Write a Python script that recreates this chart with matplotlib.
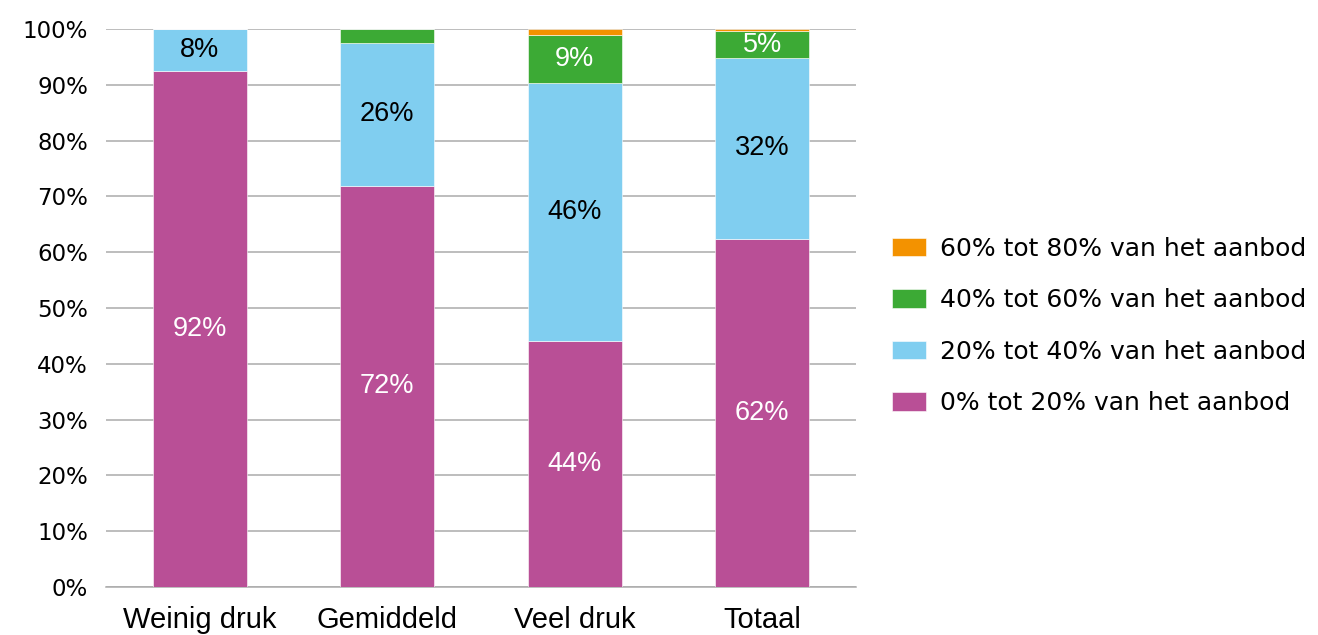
import matplotlib
matplotlib.use("Agg")
import matplotlib.pyplot as plt
import numpy as np

categories = ["Weinig druk", "Gemiddeld", "Veel druk", "Totaal"]
series_names = ["0% tot 20% van het aanbod", "20% tot 40% van het aanbod",
                "40% tot 60% van het aanbod", "60% tot 80% van het aanbod"]
share_0_20 = [92.4, 71.9, 44.0, 62.4]
share_20_40 = [7.6, 25.6, 46.4, 32.4]
share_40_60 = [0.0, 2.5, 8.6, 4.8]
share_60_80 = [0.0, 0.0, 1.0, 0.4]

colors = ["#B94F96", "#80CEF0", "#3CAA35", "#F39200"]
label_colors = ["white", "black", "white", "white"]

arial = ["Liberation Sans", "DejaVu Sans"]
wide = ["DejaVu Sans"]

fig = plt.figure(figsize=(13.18, 6.35), dpi=100)
ax = fig.add_axes([0.0804, 0.0756, 0.5691, 0.8787])

x = np.arange(len(categories))
bottom = np.zeros(len(categories))
handles = []
for vals, col, lcol, name in zip([share_0_20, share_20_40, share_40_60, share_60_80],
                                 colors, label_colors, series_names):
    vals = np.array(vals)
    b = ax.bar(x, vals, 0.5, bottom=bottom, color=col, label=name, zorder=3,
               edgecolor="white", linewidth=0.4)
    handles.append(b)
    for xi, v, b0 in zip(x, vals, bottom):
        if v >= 4:
            ax.text(xi, b0 + v / 2, f"{round(v)}%", ha="center", va="center",
                    color=lcol, fontsize=19.5, family=arial, zorder=4)
    bottom += vals

ax.set_xlim(-0.5, 3.5)
ax.set_ylim(0, 100)
ax.set_yticks(np.arange(0, 101, 10))
ax.set_yticklabels([f"{t}%" for t in range(0, 101, 10)], fontsize=16.5, family=wide)
ax.set_xticks(x)
ax.set_xticklabels(categories, fontsize=21, family=arial)
ax.tick_params(axis="both", length=0)
ax.tick_params(axis="y", pad=13)
ax.tick_params(axis="x", pad=14)
ax.yaxis.grid(True, color="#ABABAB", linewidth=1.1, zorder=0)
for s in ["top", "right", "left"]:
    ax.spines[s].set_visible(False)
ax.spines["bottom"].set_color("#ABABAB")
ax.spines["bottom"].set_linewidth(1.1)

fig.legend(handles[::-1], series_names[::-1], loc="center left",
           bbox_to_anchor=(0.660, 0.487), frameon=False,
           prop={"family": wide, "size": 18}, handlelength=1.36,
           handleheight=0.76, handletextpad=0.56, labelspacing=1.1)

fig.savefig("out.png", dpi=100)
